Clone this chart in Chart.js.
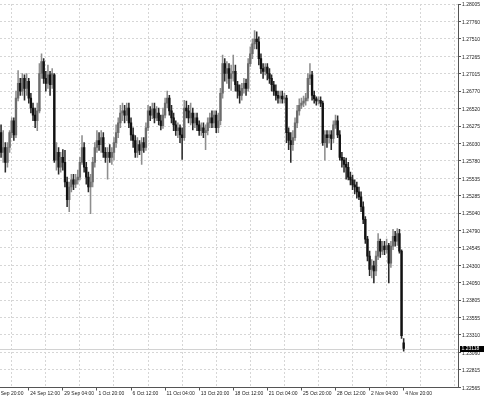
<!DOCTYPE html>
<html><head><meta charset="utf-8">
<script src="https://cdn.jsdelivr.net/npm/chart.js@4.4.1/dist/chart.umd.min.js"></script>
<style>html,body{margin:0;padding:0;background:#fff;overflow:hidden}canvas{display:block}</style>
</head><body>
<canvas id="c" width="484" height="400" style="width:484px;height:400px"></canvas>
<script>
// H4 candles, oldest first
const openP = [
1.2618,1.2590,1.2597,1.2576,1.2597,1.2618,1.2635,1.2615,1.2667,1.2688,
1.2677,1.2695,1.2681,1.2691,1.2667,1.2653,1.2643,1.2635,1.2649,1.2702,
1.2719,1.2695,1.2688,1.2700,1.2686,1.2700,1.2579,1.2590,1.2569,1.2583,
1.2576,1.2548,1.2523,1.2541,1.2551,1.2545,1.2551,1.2555,1.2576,1.2597,
1.2569,1.2555,1.2541,1.2548,1.2576,1.2597,1.2607,1.2601,1.2611,1.2590,
1.2583,1.2590,1.2583,1.2590,1.2604,1.2618,1.2632,1.2646,1.2649,1.2643,
1.2653,1.2632,1.2615,1.2607,1.2590,1.2601,1.2593,1.2604,1.2597,1.2625,
1.2649,1.2643,1.2652,1.2639,1.2646,1.2635,1.2628,1.2643,1.2660,1.2667,
1.2649,1.2639,1.2629,1.2621,1.2625,1.2615,1.2611,1.2653,1.2649,1.2639,
1.2646,1.2632,1.2639,1.2629,1.2621,1.2625,1.2618,1.2621,1.2632,1.2639,
1.2632,1.2643,1.2625,1.2635,1.2674,1.2716,1.2702,1.2709,1.2695,1.2702,
1.2705,1.2686,1.2677,1.2671,1.2681,1.2688,1.2681,1.2716,1.2730,1.2744,
1.2751,1.2747,1.2723,1.2709,1.2705,1.2711,1.2702,1.2695,1.2686,1.2677,
1.2671,1.2667,1.2670,1.2666,1.2667,1.2618,1.2607,1.2601,1.2611,1.2632,
1.2649,1.2657,1.2660,1.2663,1.2667,1.2695,1.2700,1.2671,1.2666,1.2663,
1.2664,1.2660,1.2604,1.2615,1.2611,1.2615,1.2610,1.2629,1.2635,1.2615,
1.2583,1.2579,1.2573,1.2569,1.2555,1.2551,1.2544,1.2541,1.2534,1.2527,
1.2513,1.2495,1.2467,1.2443,1.2424,1.2429,1.2422,1.2443,1.2464,1.2450,
1.2457,1.2452,1.2458,1.2433,1.2457,1.2471,1.2464,1.2475,1.2450,1.2320
];
const highP = [
1.2629,1.2621,1.2604,1.2604,1.2621,1.2639,1.2639,1.2677,1.2706,1.2695,
1.2702,1.2700,1.2702,1.2695,1.2674,1.2660,1.2653,1.2660,1.2716,1.2730,
1.2723,1.2705,1.2714,1.2705,1.2709,1.2702,1.2604,1.2597,1.2590,1.2594,
1.2593,1.2555,1.2548,1.2559,1.2559,1.2559,1.2565,1.2583,1.2614,1.2604,
1.2576,1.2562,1.2559,1.2583,1.2604,1.2621,1.2618,1.2621,1.2618,1.2597,
1.2597,1.2601,1.2597,1.2611,1.2629,1.2639,1.2657,1.2660,1.2657,1.2660,
1.2660,1.2639,1.2625,1.2614,1.2611,1.2607,1.2611,1.2611,1.2632,1.2657,
1.2655,1.2660,1.2660,1.2655,1.2653,1.2643,1.2653,1.2667,1.2677,1.2671,
1.2657,1.2646,1.2635,1.2632,1.2629,1.2625,1.2664,1.2663,1.2657,1.2660,
1.2653,1.2646,1.2646,1.2635,1.2632,1.2632,1.2629,1.2639,1.2646,1.2649,
1.2649,1.2649,1.2646,1.2681,1.2728,1.2723,1.2719,1.2716,1.2714,1.2728,
1.2714,1.2691,1.2686,1.2688,1.2695,1.2694,1.2723,1.2740,1.2751,1.2763,
1.2761,1.2754,1.2730,1.2716,1.2716,1.2716,1.2709,1.2700,1.2691,1.2686,
1.2677,1.2677,1.2677,1.2674,1.2671,1.2625,1.2618,1.2621,1.2639,1.2657,
1.2666,1.2667,1.2670,1.2674,1.2702,1.2716,1.2705,1.2677,1.2669,1.2669,
1.2669,1.2663,1.2621,1.2621,1.2621,1.2621,1.2635,1.2643,1.2642,1.2621,
1.2590,1.2583,1.2582,1.2576,1.2562,1.2558,1.2551,1.2548,1.2541,1.2534,
1.2520,1.2499,1.2471,1.2450,1.2438,1.2436,1.2450,1.2475,1.2467,1.2464,
1.2464,1.2467,1.2461,1.2464,1.2481,1.2478,1.2482,1.2481,1.2452,1.2326
];
const lowP = [
1.2583,1.2576,1.2562,1.2569,1.2590,1.2611,1.2607,1.2611,1.2663,1.2671,
1.2671,1.2664,1.2671,1.2660,1.2646,1.2635,1.2625,1.2621,1.2646,1.2695,
1.2688,1.2677,1.2681,1.2671,1.2681,1.2576,1.2565,1.2559,1.2562,1.2565,
1.2541,1.2513,1.2506,1.2534,1.2537,1.2540,1.2545,1.2551,1.2573,1.2562,
1.2545,1.2534,1.2503,1.2541,1.2569,1.2590,1.2593,1.2590,1.2583,1.2576,
1.2552,1.2576,1.2573,1.2579,1.2597,1.2611,1.2625,1.2635,1.2632,1.2635,
1.2625,1.2607,1.2597,1.2583,1.2583,1.2587,1.2573,1.2590,1.2593,1.2621,
1.2635,1.2638,1.2632,1.2635,1.2629,1.2622,1.2624,1.2639,1.2653,1.2643,
1.2632,1.2621,1.2614,1.2611,1.2604,1.2580,1.2607,1.2639,1.2632,1.2629,
1.2622,1.2625,1.2621,1.2614,1.2614,1.2611,1.2594,1.2615,1.2625,1.2625,
1.2625,1.2618,1.2618,1.2629,1.2667,1.2691,1.2688,1.2681,1.2678,1.2691,
1.2677,1.2667,1.2660,1.2664,1.2674,1.2671,1.2677,1.2712,1.2723,1.2737,
1.2737,1.2714,1.2702,1.2695,1.2700,1.2693,1.2688,1.2677,1.2671,1.2664,
1.2660,1.2660,1.2660,1.2660,1.2604,1.2594,1.2576,1.2593,1.2607,1.2625,
1.2643,1.2652,1.2655,1.2657,1.2663,1.2686,1.2664,1.2660,1.2657,1.2659,
1.2655,1.2600,1.2579,1.2597,1.2604,1.2594,1.2604,1.2624,1.2611,1.2579,
1.2569,1.2562,1.2552,1.2551,1.2544,1.2537,1.2531,1.2525,1.2523,1.2506,
1.2489,1.2461,1.2436,1.2415,1.2412,1.2405,1.2415,1.2438,1.2441,1.2445,
1.2445,1.2447,1.2405,1.2427,1.2452,1.2457,1.2458,1.2447,1.2326,1.2308
];
const closeP = [
1.2590,1.2597,1.2576,1.2597,1.2618,1.2635,1.2615,1.2667,1.2688,1.2677,
1.2695,1.2681,1.2691,1.2667,1.2653,1.2643,1.2635,1.2649,1.2702,1.2719,
1.2695,1.2688,1.2700,1.2686,1.2702,1.2579,1.2590,1.2569,1.2583,1.2576,
1.2548,1.2523,1.2541,1.2551,1.2545,1.2551,1.2555,1.2576,1.2597,1.2569,
1.2555,1.2541,1.2548,1.2576,1.2597,1.2607,1.2601,1.2611,1.2590,1.2583,
1.2590,1.2583,1.2590,1.2604,1.2618,1.2632,1.2646,1.2649,1.2643,1.2653,
1.2632,1.2615,1.2607,1.2590,1.2601,1.2593,1.2604,1.2597,1.2625,1.2649,
1.2643,1.2652,1.2639,1.2646,1.2635,1.2628,1.2643,1.2660,1.2667,1.2649,
1.2639,1.2629,1.2621,1.2625,1.2615,1.2611,1.2653,1.2649,1.2639,1.2646,
1.2632,1.2639,1.2629,1.2621,1.2625,1.2618,1.2621,1.2632,1.2639,1.2632,
1.2643,1.2625,1.2635,1.2674,1.2716,1.2702,1.2709,1.2695,1.2702,1.2705,
1.2686,1.2677,1.2671,1.2681,1.2688,1.2681,1.2716,1.2730,1.2744,1.2751,
1.2747,1.2723,1.2709,1.2705,1.2711,1.2702,1.2695,1.2686,1.2677,1.2671,
1.2667,1.2670,1.2666,1.2667,1.2618,1.2607,1.2601,1.2611,1.2632,1.2649,
1.2657,1.2660,1.2663,1.2667,1.2695,1.2700,1.2671,1.2666,1.2663,1.2664,
1.2660,1.2604,1.2615,1.2611,1.2615,1.2610,1.2629,1.2635,1.2615,1.2583,
1.2579,1.2573,1.2569,1.2555,1.2551,1.2544,1.2541,1.2534,1.2527,1.2513,
1.2495,1.2467,1.2443,1.2424,1.2429,1.2422,1.2443,1.2464,1.2450,1.2457,
1.2452,1.2458,1.2433,1.2457,1.2471,1.2464,1.2475,1.2450,1.2330,1.23118
];
// time-axis labels and the bar each one belongs to (bar -3 is scrolled off the left edge)
const timeLabels = ['22 Sep 20:00','24 Sep 12:00','29 Sep 04:00','1 Oct 20:00','6 Oct 12:00','11 Oct 04:00','13 Oct 20:00','18 Oct 12:00','21 Oct 04:00','25 Oct 20:00','28 Oct 12:00','2 Nov 04:00','4 Nov 20:00'];
const timeLabelBars = [-3,13,29,45,61,77,93,109,125,141,157,173,189];
// price-axis labels
const priceTicks = [1.28005,1.27760,1.27510,1.27265,1.27015,1.26770,1.26520,1.26275,1.26030,1.25780,1.25535,1.25285,1.25040,1.24790,1.24545,1.24300,1.24050,1.23805,1.23555,1.23310,1.23060,1.22815,1.22565];

const SLOTS = 215; // bars + empty right-hand shift area
const n = closeP.length;
const slots = Array.from({length: SLOTS}, (_, i) => String(i));
const labelAt = {};
timeLabelBars.forEach((b, k) => { if (b >= 0) labelAt[b] = timeLabels[k]; });
const up = i => closeP[i] > openP[i];
const FONT = {family: 'Liberation Sans, Arial, sans-serif', size: 5};
const GRID = '#d6d6d6';

const pricePlugin = {
  id: 'pricePlugin',
  beforeDatasetsDraw(chart) {
    const {ctx, chartArea, scales} = chart;
    const y = Math.round(scales.y.getPixelForValue(closeP[n - 1])) + 0.5;
    ctx.save();
    ctx.strokeStyle = '#d2d2d2';
    ctx.lineWidth = 1;
    ctx.beginPath(); ctx.moveTo(chartArea.left, y); ctx.lineTo(chartArea.right, y); ctx.stroke();
    ctx.restore();
  },
  afterDraw(chart) {
    const {ctx, chartArea, scales} = chart;
    ctx.save();
    // off-screen time labels (clipped by the canvas edge)
    ctx.font = FONT.size + 'px ' + FONT.family;
    ctx.fillStyle = '#222';
    ctx.textAlign = 'left'; ctx.textBaseline = 'middle';
    timeLabelBars.forEach((b, k) => {
      if (b < 0) ctx.fillText(timeLabels[k], scales.x.getPixelForValue(b) - 1, chartArea.bottom + 6.5);
    });
    // current price tag
    const y = scales.y.getPixelForValue(closeP[n - 1]);
    ctx.fillStyle = '#000';
    ctx.fillRect(chartArea.right + 2, y - 2.5, 24, 6);
    ctx.fillStyle = '#fff';
    ctx.fillText(closeP[n - 1].toFixed(5), chartArea.right + 3.5, y + 0.5);
    ctx.restore();
  }
};

new Chart(document.getElementById('c'), {
  type: 'bar',
  data: {
    labels: slots,
    datasets: [
      {
        label: 'wick',
        data: lowP.map((l, i) => [l, highP[i]]),
        backgroundColor: c => up(c.dataIndex) ? '#8e8e8e' : '#2a2a2a',
        barThickness: 0.9, grouped: false, order: 2
      },
      {
        label: 'body',
        data: openP.map((o, i) => [o, closeP[i]]),
        backgroundColor: c => up(c.dataIndex) ? '#6c6c6c' : '#111111',
        barThickness: 1.7, minBarLength: 1, grouped: false, order: 1
      }
    ]
  },
  options: {
    responsive: false, animation: false, devicePixelRatio: 1,
    layout: {padding: 0, autoPadding: false},
    plugins: {legend: {display: false}, tooltip: {enabled: false}},
    scales: {
      x: {
        type: 'category', offset: true,
        grid: {
          offset: false, lineWidth: 1, tickLength: 3, tickWidth: 1,
          color: c => (c.index !== undefined && (c.index - 5) % 16 === 0) ? GRID : 'rgba(0,0,0,0)',
          tickColor: c => (c.index !== undefined && labelAt[c.index] !== undefined) ? '#555' : 'rgba(0,0,0,0)'
        },
        border: {color: '#555', width: 1, dash: [2, 2]},
        ticks: {
          autoSkip: false, maxRotation: 0, minRotation: 0, align: 'start', labelOffset: 1.5, padding: 0,
          font: FONT, color: '#222',
          callback: (v, i) => labelAt[i] !== undefined ? labelAt[i] : ''
        },
        afterFit: s => { s.height = 12.5; }
      },
      y: {
        position: 'right', min: 1.22565, max: 1.28006,
        afterBuildTicks: s => { s.ticks = priceTicks.map(v => ({value: v})); },
        grid: {color: GRID, lineWidth: 1, tickLength: 3, tickColor: '#555'},
        border: {color: '#555', width: 1, dash: [2, 2]},
        ticks: {font: FONT, color: '#222', padding: 1, labelOffset: 1, callback: v => Number(v).toFixed(5)},
        afterFit: s => { s.width = 26; }
      }
    }
  },
  plugins: [pricePlugin]
});
</script>
</body></html>
